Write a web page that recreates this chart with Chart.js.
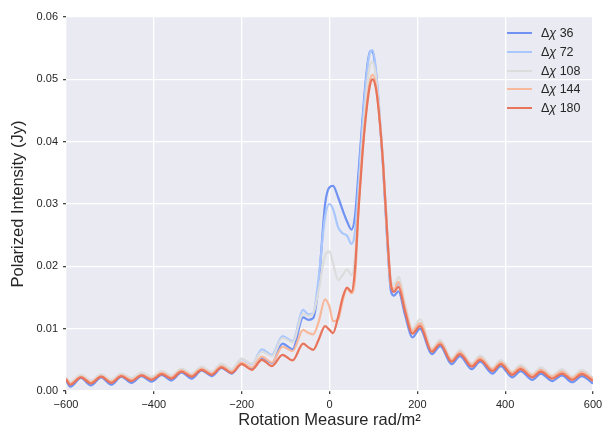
<!DOCTYPE html>
<html>
<head>
<meta charset="utf-8">
<script src="https://cdn.jsdelivr.net/npm/chart.js@4"></script>
<style>
  body { margin: 0; background: #fff; font-family: "Liberation Sans", Arial, sans-serif; }
  #wrap { position: relative; width: 602px; height: 435px; }
  #legend { position: absolute; left: 507px; top: 24px; font-size: 12.5px; color: #262626; }
  .row { height: 18.7px; display: flex; align-items: center; }
  .swatch { width: 25px; height: 2px; margin-right: 9px; }
</style>
</head>
<body>
<div id="wrap">
  <canvas id="chart" width="602" height="435"></canvas>
  <div id="legend"></div>
</div>
<script>
// rotation measure sample points (rad/m^2)
const rm = [-600, -590, -566, -543, -520, -497, -474, -451, -428, -405, -382, -360, -337, -314, -291, -268,
  -246, -223, -200, -177, -154, -131, -107, -84, -60, -48, -37, -25, -10, 0, 8, 20, 30, 40, 50, 58, 66, 75,
  85, 92, 98, 105, 112, 122, 132, 140, 147, 157, 172, 189, 206, 233, 252, 278, 297, 324, 343, 371, 390, 416,
  435, 462, 481, 507, 529, 553, 574, 600];

const chi36 = [.0017, .0007, .0021, .0009, .0022, .0010, .0023, .0013, .0024, .0015, .0026, .0017, .0030, .0020, .0033, .0024,
  .0037, .0028, .0044, .0036, .0053, .0045, .0076, .0067, .0118, .0114, .0117, .0170, .0300, .0327, .0329, .0310, .0290, .0272, .0259, .0280, .0350, .0435,
  .0515, .0545, .0545, .0515, .0460, .0360, .0235, .0160, .0153, .0160, .0122, .0086, .0100, .0059, .0072, .0043, .0056, .0035, .0047, .0028, .0040, .0022,
  .0032, .0018, .0028, .0016, .0025, .0014, .0024, .0012];
const chi72 = [.0021, .0013, .0025, .0015, .0026, .0016, .0027, .0019, .0028, .0021, .0031, .0023, .0035, .0026, .0038, .0030,
  .0043, .0034, .0051, .0043, .0067, .0058, .0088, .0080, .0130, .0123, .0125, .0180, .0280, .0300, .0292, .0262, .0253, .0249, .0236, .0255, .0330, .0425,
  .0510, .0543, .0547, .0520, .0465, .0365, .0240, .0168, .0160, .0172, .0133, .0096, .0108, .0067, .0079, .0051, .0063, .0043, .0054, .0036, .0047, .0030,
  .0039, .0026, .0035, .0024, .0032, .0022, .0031, .0020];
const chi108 = [.0022, .0015, .0026, .0017, .0027, .0018, .0028, .0021, .0030, .0023, .0032, .0025, .0036, .0028, .0039, .0031,
  .0044, .0035, .0052, .0044, .0063, .0056, .0085, .0078, .0124, .0120, .0125, .0160, .0218, .0224, .0205, .0178, .0186, .0195, .0186, .0215, .0300, .0400,
  .0485, .0522, .0528, .0508, .0460, .0370, .0250, .0178, .0170, .0183, .0140, .0100, .0115, .0068, .0082, .0052, .0066, .0044, .0057, .0037, .0050, .0031,
  .0042, .0027, .0038, .0025, .0035, .0023, .0034, .0021];
const chi144 = [.0020, .0012, .0023, .0014, .0024, .0015, .0025, .0018, .0026, .0020, .0029, .0022, .0033, .0025, .0036, .0028,
  .0040, .0031, .0046, .0038, .0055, .0046, .0071, .0064, .0098, .0093, .0091, .0110, .0147, .0135, .0112, .0115, .0145, .0164, .0157, .0180, .0290, .0385,
  .0460, .0497, .0507, .0493, .0452, .0365, .0245, .0168, .0164, .0175, .0134, .0096, .0109, .0066, .0078, .0050, .0062, .0042, .0053, .0035, .0046, .0029,
  .0038, .0025, .0034, .0023, .0031, .0021, .0030, .0019];
const chi180 = [.0019, .0010, .0022, .0012, .0023, .0013, .0024, .0016, .0025, .0018, .0027, .0020, .0031, .0023, .0034, .0026,
  .0038, .0029, .0043, .0034, .0050, .0040, .0058, .0049, .0076, .0070, .0066, .0082, .0104, .0098, .0093, .0120, .0150, .0166, .0159, .0195, .0290, .0380,
  .0455, .0490, .0500, .0488, .0450, .0365, .0245, .0170, .0159, .0167, .0128, .0092, .0104, .0063, .0075, .0047, .0059, .0039, .0050, .0032, .0043, .0026,
  .0035, .0022, .0031, .0020, .0028, .0018, .0027, .0016];

const seriesLabels = ['36', '72', '108', '144', '180'];
const seriesData = [chi36, chi72, chi108, chi144, chi180];
const colors = ['#6f92f3', '#aac7fd', '#dddcdc', '#f7b89c', '#e7745b'];
const yTicks = [0, 0.01, 0.02, 0.03, 0.04, 0.05, 0.06];

const bgPlugin = {
  id: 'bg',
  beforeDraw(chart) {
    const { ctx, chartArea: a } = chart;
    ctx.save();
    ctx.fillStyle = '#eaeaf2';
    ctx.fillRect(a.left, a.top, a.right - a.left, a.bottom - a.top);
    ctx.restore();
  }
};

const datasets = seriesData.map((arr, i) => ({
  label: 'Δχ ' + seriesLabels[i],
  data: rm.map((x, j) => ({ x: x, y: arr[j] })),
  borderColor: colors[i],
  borderWidth: 2.2,
  pointRadius: 0,
  cubicInterpolationMode: 'monotone',
  order: seriesData.length - i
}));

const tickFont = { family: '"Liberation Sans", Arial, sans-serif', size: 11 };
const titleFont = { family: '"Liberation Sans", Arial, sans-serif', size: 16.5 };

new Chart(document.getElementById('chart'), {
  type: 'line',
  data: { datasets },
  options: {
    responsive: false,
    animation: false,
    layout: { padding: { left: 0, top: 17, right: 9, bottom: 0 } },
    plugins: { legend: { display: false }, tooltip: { enabled: false } },
    scales: {
      x: {
        type: 'linear', min: -600, max: 600,
        afterFit: s => { s.height = 44; s.paddingLeft = 0; s.paddingRight = 0; },
        grid: { color: '#ffffff', lineWidth: 1.3, tickLength: 3, tickColor: '#444' },
        border: { display: false },
        ticks: {
          stepSize: 200, color: '#262626', font: tickFont, padding: 4, maxRotation: 0,
          callback: v => String(v).replace('-', '\u2212')
        },
        title: { display: true, text: 'Rotation Measure rad/m²', color: '#262626', font: titleFont, padding: { top: 0, bottom: 5 } }
      },
      y: {
        min: 0, max: 0.06,
        afterFit: s => { s.width = 66; },
        afterBuildTicks: s => { s.ticks = yTicks.map(v => ({ value: v })); },
        grid: { color: '#ffffff', lineWidth: 1.3, tickLength: 3, tickColor: '#444' },
        border: { display: false },
        ticks: { color: '#262626', font: tickFont, padding: 5, callback: v => v.toFixed(2) },
        title: { display: true, text: 'Polarized Intensity (Jy)', color: '#262626', font: titleFont, padding: { top: 9, bottom: 0 } }
      }
    }
  },
  plugins: [bgPlugin]
});

// legend inside the plot, upper right
const legendEl = document.getElementById('legend');
seriesLabels.forEach((lab, i) => {
  const row = document.createElement('div');
  row.className = 'row';
  row.innerHTML = `<span class="swatch" style="background:${colors[i]}"></span><span>Δ<i>χ</i> ${lab}</span>`;
  legendEl.appendChild(row);
});
</script>
</body>
</html>
